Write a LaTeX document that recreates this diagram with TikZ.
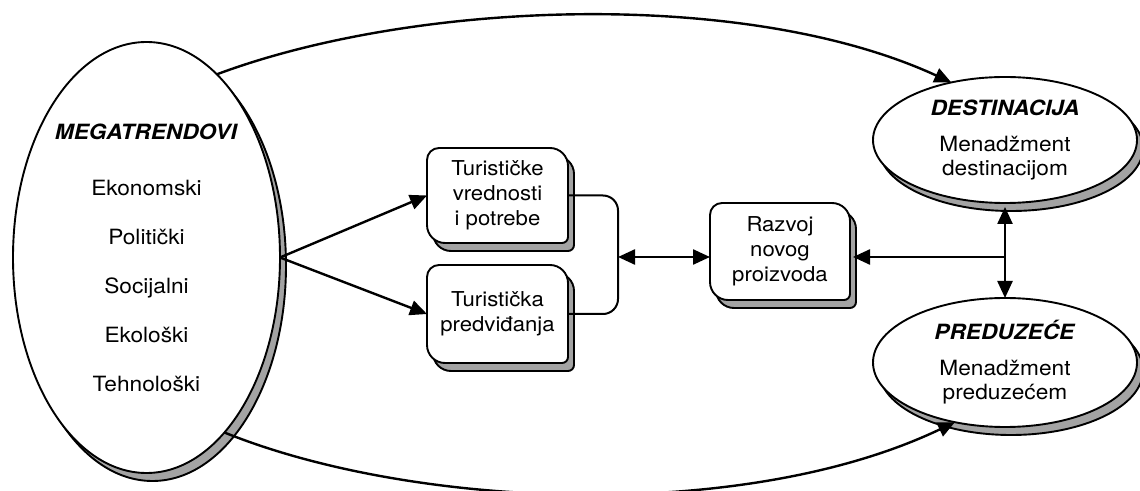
\documentclass[tikz,border=0pt]{standalone}
\usepackage{fontspec}
\setmainfont{TeX Gyre Heros}[FakeStretch=1.08]
\usetikzlibrary{arrows.meta,calc,shapes.geometric,shadows,backgrounds}
\definecolor{shgray}{gray}{0.64}

% outline of a tab box: corners of unequal roundness, shifted by (#2,#3)
\newcommand\tabpath[3]{%
  ($(#1.north west)+(#2,#3)+(0,-12)$) arc[start angle=180,end angle=90,radius=12]
  -- ($(#1.north east)+(#2,#3)+(-18,0)$) arc[start angle=90,end angle=0,radius=18]
  -- ($(#1.south east)+(#2,#3)+(0,6)$) arc[start angle=0,end angle=-90,radius=6]
  -- ($(#1.south west)+(#2,#3)+(18,0)$) arc[start angle=270,end angle=180,radius=18]
  -- cycle}

\tikzset{
  ell/.style={ellipse, draw=black, line width=1.9pt, fill=white, inner sep=0pt,
    outer sep=0pt, align=center,
    general shadow={shadow xshift=6pt, shadow yshift=-8pt, fill=shgray,
      draw=black, line width=1.9pt}},
  tabnode/.style={rectangle, inner sep=0pt, outer sep=0pt, minimum width=141pt,
    minimum height=96pt, align=center, font=\fontsize{20.5}{25}\selectfont},
  tabshade/.style={fill=shgray, draw=black, line width=1.9pt},
  tabface/.style={fill=white, draw=black, line width=1.9pt},
  conn/.style={line width=2.4pt},
  bracket/.style={line width=2pt, rounded corners=15pt},
  tip/.style={-{Triangle[length=17pt,width=15pt]}},
  twotip/.style={{Triangle[length=17pt,width=15pt]}-{Triangle[length=17pt,width=15pt]}},
}

\begin{document}
\begin{tikzpicture}[x=1pt,y=1pt]
\useasboundingbox (0,0) rectangle (1140,490);
\clip (0,0) rectangle (1140,490);

% ellipses
\node[ell, minimum width=267pt, minimum height=431pt,
      font=\fontsize{21}{49}\selectfont] (mega) at (146.5,232.5)
  {\textbf{\textit{MEGATRENDOVI}}\\[7pt]Ekonomski\\Politički\\Socijalni\\Ekološki\\Tehnološki};
\node[ell, minimum width=264pt, minimum height=126pt,
      font=\fontsize{21}{24}\selectfont] (dest) at (1005,350)
  {\textbf{\textit{DESTINACIJA}}\\[12pt]Menadžment\\destinacijom};
\node[ell, minimum width=264pt, minimum height=129pt,
      font=\fontsize{21}{24}\selectfont] (pred) at (1005,127.5)
  {\textbf{\textit{PREDUZEĆE}}\\[12pt]Menadžment\\preduzećem};

% tab boxes
\node[tabnode, minimum height=95pt] (box1) at (497.5,294.5) {Turističke\\vrednosti\\i potrebe};
\node[tabnode, minimum height=98pt] (box2) at (497.5,176) {Turistička\\predviđanja};
\node[tabnode, minimum width=140pt, minimum height=97pt] (box3) at (780,238.5) {Razvoj\\novog\\proizvoda};

\begin{scope}[on background layer]
  \foreach \b in {box1,box2,box3}{
    \path[tabshade] \tabpath{\b}{6}{-8};
    \path[tabface] \tabpath{\b}{0}{0};
  }
\end{scope}

% junction points
\coordinate (join) at (618,233);
\coordinate (hub) at (dest.south |- join);

% connectors
\draw[conn, tip] (mega.east) -- (box1.west);
\draw[conn, tip] (mega.east) -- (box2.west);
\draw[bracket] (box1.east) -| (join) |- (box2.east);
\draw[conn, twotip] (join) -- (join -| box3.west);
\draw[conn, twotip] ($(dest.south)+(0,-4)$) -- (pred.north);
\draw[conn, tip] (hub) -- ($(hub -| box3.east)+(3,0)$);

% long arcs to the right-hand ellipses
\draw[conn, tip] (mega.69.6) .. controls (416,490) and (746,502) .. (dest.133.1);
\draw[conn, tip] (mega.-66.7) .. controls (416,-20) and (746,-32) .. (pred.230.4);
\end{tikzpicture}
\end{document}
